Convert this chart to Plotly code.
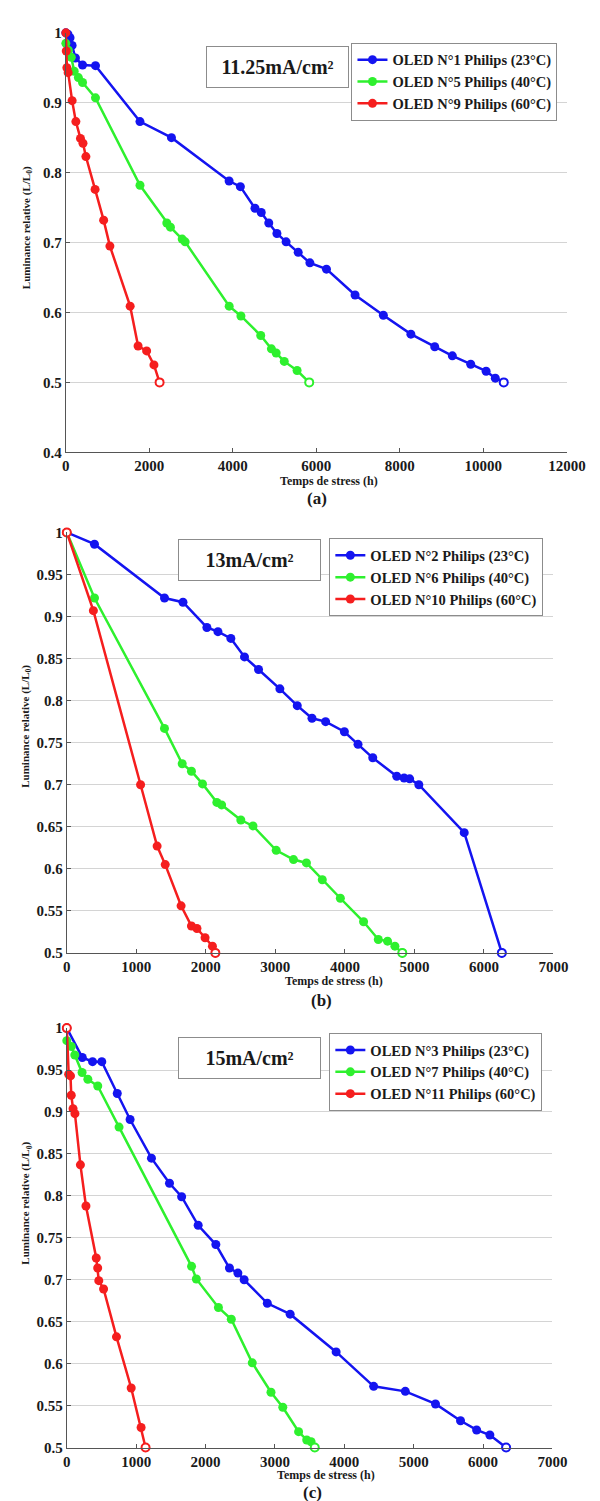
import plotly.graph_objects as go

W, H = 600, 1501

# (a) 11.25 mA/cm²
a_blue_x = [0, 50, 100, 150, 230, 400, 710, 1775, 2530, 3910, 4180, 4530, 4680, 4860, 5055, 5275,
            5565, 5845, 6242, 6927, 7604, 8264, 8835, 9257, 9697, 10066, 10286, 10488]
a_blue_y = [1.0, 0.998, 0.993, 0.982, 0.964, 0.954, 0.953, 0.873, 0.850, 0.788, 0.780, 0.749, 0.743,
            0.728, 0.713, 0.701, 0.686, 0.671, 0.662, 0.625, 0.596, 0.569, 0.551, 0.538, 0.526, 0.516,
            0.506, 0.500]
a_green_x = [0, 60, 130, 200, 300, 400, 710, 1776, 2418, 2505, 2786, 2857, 3912, 4193, 4668, 4923,
             5037, 5231, 5538, 5829]
a_green_y = [0.985, 0.975, 0.965, 0.945, 0.936, 0.929, 0.907, 0.782, 0.728, 0.722, 0.705, 0.701, 0.609,
             0.595, 0.567, 0.548, 0.542, 0.530, 0.517, 0.500]
a_red_x = [0, 10, 25, 55, 150, 240, 350, 410, 480, 700, 905, 1055, 1540, 1730, 1935, 2110, 2245]
a_red_y = [1.0, 0.974, 0.950, 0.943, 0.903, 0.873, 0.849, 0.842, 0.823, 0.776, 0.732, 0.695, 0.609,
           0.552, 0.545, 0.525, 0.500]

# (b) 13 mA/cm²
b_blue_x = [0, 398, 1405, 1671, 2015, 2174, 2360, 2556, 2758, 3065, 3315, 3527, 3723, 3993, 4189, 4401,
            4746, 4852, 4932, 5064, 5717, 6258]
b_blue_y = [1.0, 0.986, 0.922, 0.917, 0.887, 0.882, 0.874, 0.852, 0.837, 0.814, 0.794, 0.779, 0.775,
            0.763, 0.748, 0.732, 0.710, 0.708, 0.707, 0.700, 0.643, 0.500]
b_green_x = [0, 398, 1405, 1660, 1793, 1952, 2158, 2227, 2503, 2678, 3012, 3261, 3447, 3675, 3935, 4269,
             4481, 4614, 4720, 4826]
b_green_y = [1.0, 0.922, 0.767, 0.725, 0.716, 0.701, 0.679, 0.676, 0.658, 0.651, 0.622, 0.611, 0.607,
             0.587, 0.565, 0.537, 0.516, 0.514, 0.508, 0.500]
b_red_x = [0, 382, 1061, 1299, 1416, 1644, 1793, 1872, 1989, 2095, 2137]
b_red_y = [1.0, 0.907, 0.700, 0.627, 0.605, 0.556, 0.532, 0.529, 0.518, 0.508, 0.500]

# (c) 15 mA/cm²
c_blue_x = [0, 223, 371, 504, 727, 912, 1220, 1480, 1655, 1893, 2148, 2344, 2466, 2556, 2890, 3219, 3882,
            4423, 4879, 5314, 5675, 5907, 6098, 6332]
c_blue_y = [1.0, 0.965, 0.960, 0.960, 0.922, 0.891, 0.845, 0.815, 0.799, 0.765, 0.742, 0.714, 0.708,
            0.700, 0.672, 0.659, 0.614, 0.573, 0.567, 0.552, 0.532, 0.521, 0.515, 0.500]
c_green_x = [0, 65, 115, 220, 303, 446, 753, 1798, 1867, 2185, 2371, 2673, 2943, 3113, 3341, 3458, 3521, 3574]
c_green_y = [0.985, 0.978, 0.968, 0.947, 0.939, 0.931, 0.882, 0.716, 0.701, 0.667, 0.653, 0.601, 0.566,
             0.548, 0.519, 0.509, 0.507, 0.500]
c_red_x = [0, 27, 53, 64, 90, 117, 196, 276, 424, 445, 461, 530, 716, 928, 1071, 1135]
c_red_y = [1.0, 0.945, 0.943, 0.920, 0.904, 0.898, 0.837, 0.788, 0.726, 0.714, 0.699, 0.689, 0.632,
           0.571, 0.524, 0.500]

BLUE, GREEN, RED = "#1414f0", "#2ef02e", "#f51e1e"
SERIF = "Liberation Serif, Times New Roman, Times, serif"


def px(x):
    return x / W


def py(y):
    return 1 - y / H


panels = [
    dict(xs=[a_blue_x, a_green_x, a_red_x], ys=[a_blue_y, a_green_y, a_red_y],
         names=["OLED N°1 Philips (23°C)", "OLED N°5 Philips (40°C)", "OLED N°9 Philips (60°C)"],
         xl=56, xr=577, yt=17, yb=441, xrange=[0, 12000], dx=2000, yrange=[0.4, 1.0], dy=0.1,
         red_open_first=False, box="11.25mA/cm²", box_c=(276, 52), leg=(353, 27),
         xtitle=(330, 470), cap=("(a)", 317, 488), ytitle_y=214),
    dict(xs=[b_blue_x, b_green_x, b_red_x], ys=[b_blue_y, b_green_y, b_red_y],
         names=["OLED N°2 Philips (23°C)", "OLED N°6 Philips (40°C)", "OLED N°10 Philips (60°C)"],
         xl=57, xr=563, yt=522, yb=947, xrange=[0, 7000], dx=1000, yrange=[0.5, 1.0], dy=0.05,
         red_open_first=True, box="13mA/cm²", box_c=(247, 550), leg=(330, 528),
         xtitle=(335, 975), cap=("(b)", 322, 995), ytitle_y=718),
    dict(xs=[c_blue_x, c_green_x, c_red_x], ys=[c_blue_y, c_green_y, c_red_y],
         names=["OLED N°3 Philips (23°C)", "OLED N°7 Philips (40°C)", "OLED N°11 Philips (60°C)"],
         xl=57, xr=562, yt=1023, yb=1447, xrange=[0, 7000], dx=1000, yrange=[0.5, 1.0], dy=0.05,
         red_open_first=True, box="15mA/cm²", box_c=(247, 1053), leg=(330, 1028),
         xtitle=(326, 1475), cap=("(c)", 312, 1492), ytitle_y=1200),
]

fig = go.Figure()
annotations = []
layout = {}
dark = "#1a1a1a"

for i, p in enumerate(panels, start=1):
    sfx = "" if i == 1 else str(i)
    xa, ya = "x" + sfx, "y" + sfx
    leg = "legend" + sfx
    for xs, ys, name, col in zip(p["xs"], p["ys"], p["names"], [BLUE, GREEN, RED]):
        fig.add_trace(go.Scatter(
            x=xs, y=ys, name=name, mode="lines+markers", xaxis=xa, yaxis=ya, legend=leg,
            line=dict(color=col, width=2.5),
            marker=dict(color=col, size=9, symbol="circle"),
            cliponaxis=False,
        ))
    # open circles at end points
    for xs, ys, col, is_red in zip(p["xs"], p["ys"], [BLUE, GREEN, RED], [False, False, True]):
        ox, oy = [xs[-1]], [ys[-1]]
        if is_red and p["red_open_first"]:
            ox, oy = [xs[0], xs[-1]], [ys[0], ys[-1]]
        fig.add_trace(go.Scatter(
            x=ox, y=oy, mode="markers", xaxis=xa, yaxis=ya, showlegend=False,
            marker=dict(color="white", size=8, line=dict(color=col, width=2)),
            cliponaxis=False, hoverinfo="skip",
        ))

    tickfont = dict(family=SERIF, size=15, color=dark, weight="bold")
    layout["xaxis" + sfx] = dict(
        domain=[px(p["xl"]), px(p["xr"])], anchor=ya, range=p["xrange"], dtick=p["dx"],
        tickformat="d",
        showline=True, linecolor="#555", linewidth=1, ticks="inside", ticklen=4, tickcolor="#555",
        showgrid=False, zeroline=False, tickfont=tickfont, fixedrange=True,
    )
    layout["yaxis" + sfx] = dict(
        domain=[py(p["yb"]), py(p["yt"])], anchor=xa, range=p["yrange"], dtick=p["dy"],
        showline=True, linecolor="#555", linewidth=1, ticks="inside", ticklen=4, tickcolor="#555",
        showgrid=True, gridcolor="#d4d4d4", gridwidth=1, zeroline=False, tickfont=tickfont,
        fixedrange=True,
    )
    layout[leg] = dict(
        x=px(p["leg"][0]), y=py(p["leg"][1]), xanchor="left", yanchor="top",
        bgcolor="white", bordercolor="#8c8c8c", borderwidth=1, itemwidth=30,
        font=dict(family=SERIF, size=14.5, color=dark, weight="bold"),
        tracegroupgap=0,
    )
    common = dict(xref="paper", yref="paper", xanchor="center", yanchor="middle", showarrow=False)
    annotations.append(dict(
        x=px(p["box_c"][0]), y=py(p["box_c"][1]), text=p["box"], width=139, height=38,
        bordercolor="#8c8c8c", borderwidth=1, bgcolor="white",
        font=dict(family=SERIF, size=20, color=dark, weight="bold"), **common,
    ))
    annotations.append(dict(
        x=px(p["xtitle"][0]), y=py(p["xtitle"][1]), text="Temps de stress (h)",
        font=dict(family=SERIF, size=12, color=dark, weight="bold"), **common,
    ))
    cap, cx, cy = p["cap"]
    annotations.append(dict(
        x=px(cx), y=py(cy), text=cap,
        font=dict(family=SERIF, size=17, color=dark, weight="bold"), **common,
    ))
    annotations.append(dict(
        x=px(15), y=py(p["ytitle_y"]), text="Luminance relative (L/L<sub>0</sub>)", textangle=-90,
        font=dict(family=SERIF, size=11, color=dark, weight="bold"), **common,
    ))

fig.update_layout(
    width=W, height=H, margin=dict(l=0, r=0, t=0, b=0),
    paper_bgcolor="white", plot_bgcolor="white",
    annotations=annotations, **layout,
)

fig.write_html("out.html")
